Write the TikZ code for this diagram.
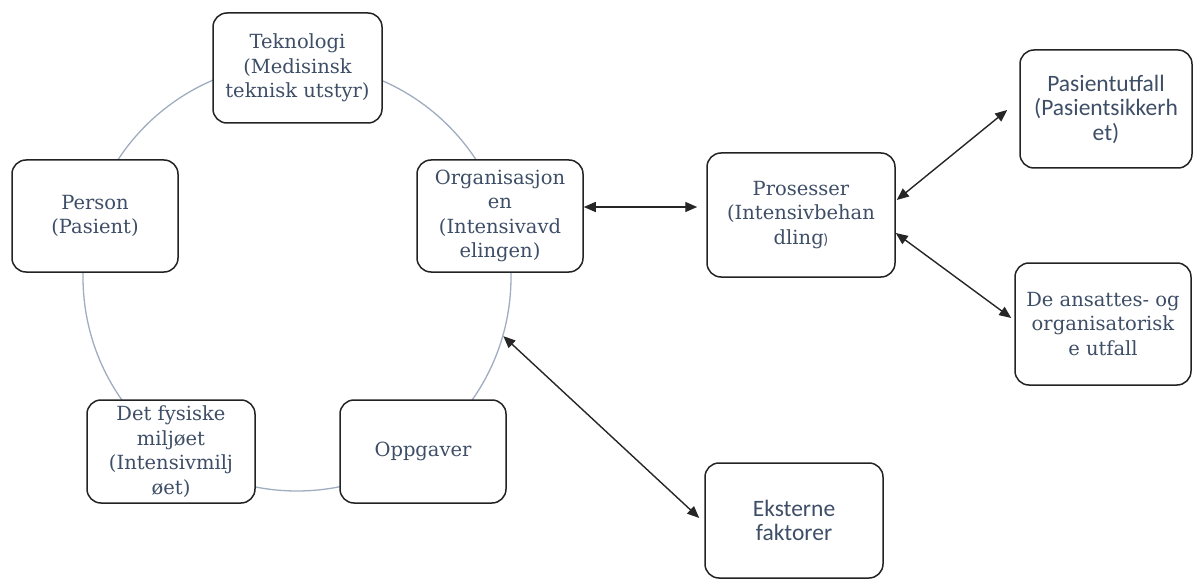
\documentclass[tikz,border=0pt]{standalone}
\usepackage{fontspec}
\setmainfont{DejaVu Serif}
\newfontfamily\carl{Carlito}
\usetikzlibrary{arrows.meta}
\definecolor{txt}{RGB}{62,78,102}
\definecolor{ringc}{RGB}{160,172,192}
\definecolor{edgec}{RGB}{35,35,35}
\begin{document}
\begin{tikzpicture}[x=1pt,y=-1pt,
  box/.style={draw=edgec, line width=1.5pt, rounded corners=14pt, fill=white,
    align=center, text=txt, inner sep=0pt, font=\fontsize{19.5}{24.5}\selectfont},
  sbox/.style={box, font=\carl\fontsize{23.5}{24.5}\selectfont},
  link/.style={draw=black!85, line width=1.4pt,
    {Triangle[length=12pt,width=10pt]}-{Triangle[length=12pt,width=10pt]}}]
\useasboundingbox (0,0) rectangle (1194,580);
\node[circle, draw=ringc, line width=1.3pt, minimum size=428pt, inner sep=0pt] (ring) at (297,277) {};
\node[box, minimum width=169pt, minimum height=110pt] (tek) at (297.5,68) {Teknologi\\(Medisinsk\\teknisk utstyr)};
\node[box, minimum width=166pt, minimum height=112pt] (per) at (95,216) {Person\\(Pasient)};
\node[box, minimum width=166pt, minimum height=112pt] (org) at (500,216) {Organisasjon\\en\\(Intensivavd\\elingen)};
\node[box, minimum width=188pt, minimum height=124pt] (pros) at (801,215) {Prosesser\\(Intensivbehan\\dling{\carl\fontsize{15}{15}\selectfont )}};
\node[sbox, minimum width=172pt, minimum height=118pt] (pas) at (1106,109) {Pasientutfall\\(Pasientsikkerh\\et)};
\node[box, minimum width=176pt, minimum height=122pt] (ans) at (1103,324) {De ansattes- og\\organisatorisk\\e utfall};
\node[box, minimum width=168pt, minimum height=103pt] (fys) at (171,451.5) {Det fysiske\\miljøet\\(Intensivmilj\\øet)};
\node[box, minimum width=166pt, minimum height=103pt] (opp) at (423,451.5) {Oppgaver};
\node[sbox, minimum width=178pt, minimum height=115pt] (eks) at (794,520.5) {Eksterne\\faktorer};
\draw[link] ([shift={(0,-9)}]org.east) -- ([shift={(-9,-8)}]pros.west);
\draw[link] ([shift={(1,-15)}]pros.east) -- ([shift={(-12,1)}]pas.west);
\draw[link] ([shift={(0,18)}]pros.east) -- ([shift={(-3,-6)}]ans.west);
\draw[link] (ring.-16) -- ([shift={(-5,-2.5)}]eks.west);
\end{tikzpicture}
\end{document}
